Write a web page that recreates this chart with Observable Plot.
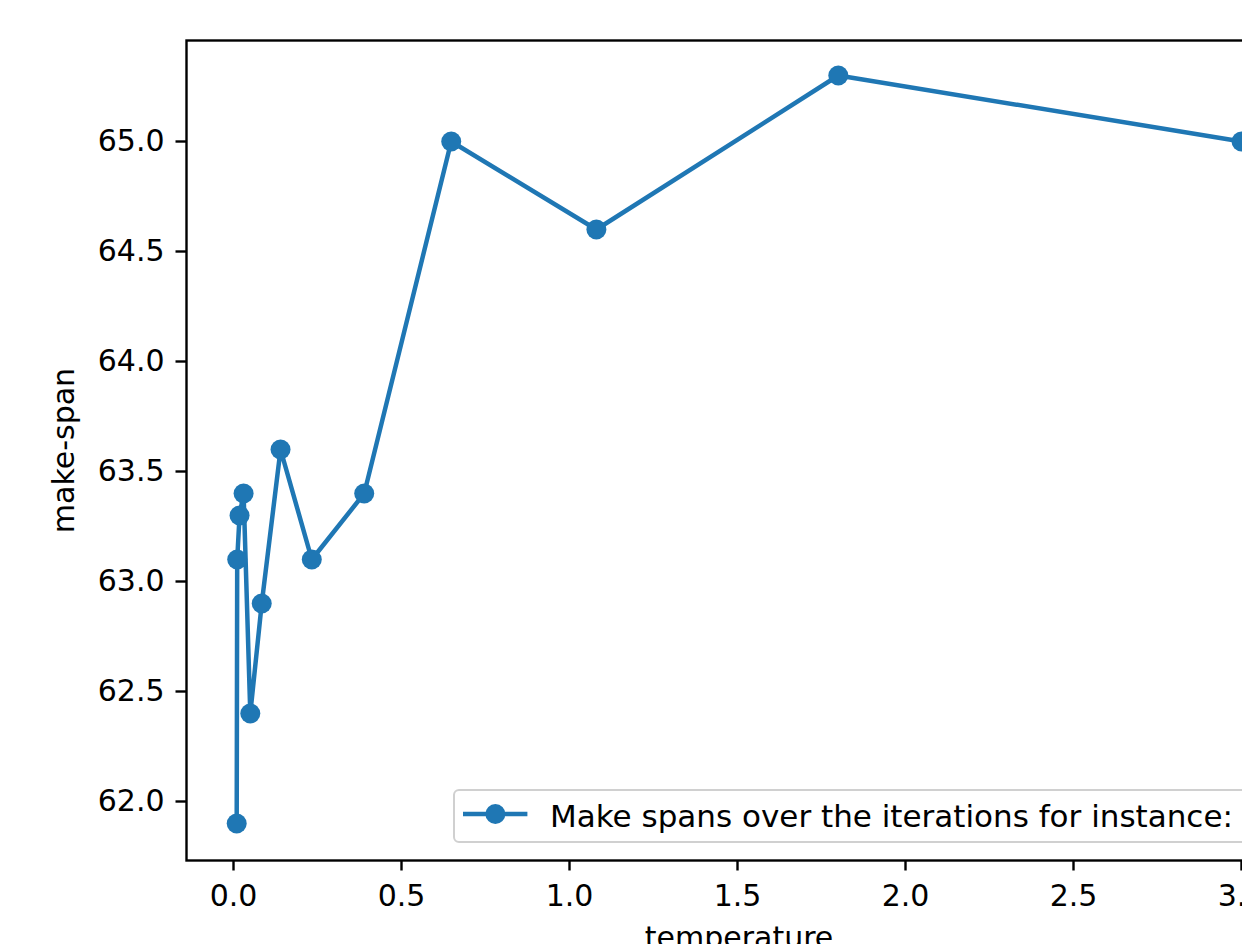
<!DOCTYPE html>
<html>
<head>
<meta charset="utf-8">
<script src="https://cdn.jsdelivr.net/npm/d3@7"></script>
<script src="https://cdn.jsdelivr.net/npm/@observablehq/plot@0.6"></script>
<style>
  html, body { margin: 0; padding: 0; overflow: hidden; background: white; }
  #wrap { position: relative; width: 1242px; height: 944px; overflow: hidden; background: white; }
  #legend {
    position: absolute; left: 453px; top: 789px; width: 900px; height: 54px;
    box-sizing: border-box; border: 2px solid #d0d0d0; border-radius: 6px;
    background: rgba(255,255,255,0.8);
    font-family: "DejaVu Sans", sans-serif; font-size: 31px; color: #000;
  }
  #legend svg { position: absolute; left: 8px; top: 11px; }
  #legend span { position: absolute; left: 95px; top: 9.8px; line-height: 31px; white-space: nowrap; }
</style>
</head>
<body>
<div id="wrap"><div id="legend"></div></div>
<script>
// Data
const temperature = [3.0, 1.8, 1.08, 0.648, 0.389, 0.233, 0.14, 0.084, 0.05, 0.03, 0.018, 0.011, 0.0095];
const makespan    = [65.0, 65.3, 64.6, 65.0, 63.4, 63.1, 63.6, 62.9, 62.4, 63.4, 63.3, 63.1, 61.9];
const xTicks = [0.0, 0.5, 1.0, 1.5, 2.0, 2.5, 3.0];
const yTicks = [62.0, 62.5, 63.0, 63.5, 64.0, 64.5, 65.0];
const seriesLabel = "Make spans over the iterations for instance: 0";
const xLabel = "temperature";
const yLabel = "make-span";

const color = "#1f77b4";
const data = temperature.map((t, i) => ({t, m: makespan[i]}));

const chart = Plot.plot({
  width: 1400,
  height: 944,
  marginLeft: 186,
  marginRight: 109,
  marginTop: 40,
  marginBottom: 84,
  style: {fontFamily: "DejaVu Sans, sans-serif", fontSize: "30px", maxWidth: "none", background: "white", color: "black"},
  x: {domain: [-0.1399, 3.1488]},
  y: {domain: [61.7318, 65.4591]},
  marks: [
    Plot.line(data, {x: "t", y: "m", stroke: color, strokeWidth: 4.5}),
    Plot.dot(data, {x: "t", y: "m", r: 10, fill: color, stroke: null}),
    Plot.frame({stroke: "black", strokeWidth: 2.4}),
    Plot.axisX(xTicks, {tickFormat: d3.format(".1f"), tickSize: 10.5, tickPadding: 14, fontSize: 30, strokeWidth: 2.4, stroke: "black", fill: "black", label: null}),
    Plot.axisY(yTicks, {tickFormat: d3.format(".1f"), tickSize: 10.5, tickPadding: 11.5, fontSize: 30, strokeWidth: 2.4, stroke: "black", fill: "black", label: null}),
    Plot.text([xLabel], {frameAnchor: "bottom", lineAnchor: "bottom", textAnchor: "middle", dy: 87.5, fontSize: 30, fill: "black"}),
    Plot.text([yLabel], {frameAnchor: "left", rotate: -90, lineAnchor: "top", textAnchor: "middle", dx: -134.3, fontSize: 30, fill: "black"})
  ]
});
const wrap = document.getElementById("wrap");
wrap.insertBefore(chart, wrap.firstChild);

// Legend
const legend = document.getElementById("legend");
legend.innerHTML = `<svg width="66" height="24" viewBox="0 0 66 24">
  <line x1="0" y1="12" x2="64.4" y2="12" stroke="${color}" stroke-width="4.5"/>
  <circle cx="32.4" cy="12" r="10" fill="${color}"/>
</svg><span></span>`;
legend.querySelector("span").textContent = seriesLabel;
</script>
</body>
</html>
